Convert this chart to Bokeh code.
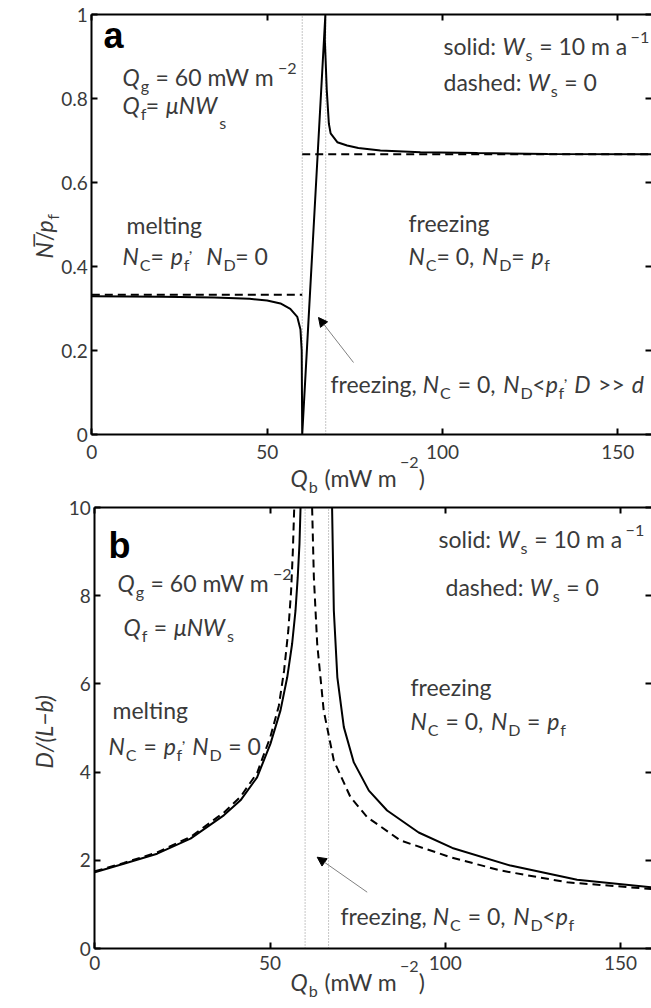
import math
from bokeh.plotting import figure
from bokeh.models import (Label, Arrow, NormalHead, FixedTicker, LinearAxis, Range1d,
                          CustomLabelingPolicy)
from bokeh.layouts import column
from bokeh.embed import file_html
from bokeh.resources import INLINE

# ---------------- data ----------------
qb_ticks = [0, 50, 100, 150]
a_yticks = [0, 0.2, 0.4, 0.6, 0.8, 1.0]
a_ylabels = ["0", "0.2", "0.4", "0.6", "0.8", "1"]
b_yticks = [0, 2, 4, 6, 8, 10]
b_ylabels = ["0", "2", "4", "6", "8", "10"]
q_thresholds = [60.0, 66.7]

# panel a: normalised effective pressure
a_dash_melt_q = [0, 60]
a_dash_melt_n = [0.333, 0.333]
a_dash_freeze_q = [60, 159.6]
a_dash_freeze_n = [0.667, 0.667]
a_solid_q = [0, 20, 35, 45, 50, 53.8, 56.6, 58.6, 59.5, 59.85, 60.0,
             66.6, 66.45, 67.0, 67.6, 68.1, 70.0, 72.8, 76.0, 82.3, 93.7, 110, 130, 159.6]
a_solid_n = [0.329, 0.328, 0.326, 0.323, 0.319, 0.312, 0.299, 0.280, 0.250, 0.20, 0.0,
             1.0, 0.94, 0.82, 0.74, 0.717, 0.696, 0.688, 0.682, 0.676, 0.672, 0.670, 0.668, 0.667]

# panel b: D/(L-b)
b_solid_left_q = [0, 8.27, 17.8, 27.3, 36.8, 41.57, 46.3, 50.1, 52.98, 54.9, 56.3, 57.26, 57.9, 58.4, 58.7]
b_solid_left_d = [1.73, 1.92, 2.15, 2.49, 3.02, 3.36, 3.88, 4.64, 5.40, 6.15, 6.91, 7.66, 8.42, 9.18, 10.0]
b_dash_left_q = [0, 8.27, 17.8, 27.3, 36.8, 41.57, 46.3, 50.1, 52.5, 54.0, 55.2, 56.0, 56.5, 56.9]
b_dash_left_d = [1.75, 1.94, 2.18, 2.53, 3.08, 3.44, 3.98, 4.80, 5.50, 6.30, 7.20, 8.10, 9.00, 10.0]
b_solid_right_q = [67.7, 68.2, 69.2, 71.05, 73.9, 78.2, 83.4, 92.4, 102.0, 118.6, 137.6, 158.8]
b_solid_right_d = [10.0, 7.66, 6.15, 5.02, 4.22, 3.58, 3.13, 2.63, 2.28, 1.88, 1.56, 1.39]
b_dash_right_q = [62.0, 62.5, 63.45, 65.3, 68.2, 72.95, 77.7, 87.2, 101.5, 115.7, 134.8, 158.8]
b_dash_right_d = [10.0, 8.42, 6.91, 5.40, 4.26, 3.43, 2.98, 2.45, 2.07, 1.77, 1.50, 1.35]

# ---------------- styling helpers ----------------
FONT = "Lato"
TXT = "#3a3a3a"
TS = 23      # annotation font size (px)
BASEFIX = 0.27  # baseline correction (em)
W = {' ': 0.30, 'a': 0.49, 'b': 0.56, 'c': 0.46, 'd': 0.56, 'e': 0.52, 'f': 0.32, 'g': 0.50,
     'h': 0.56, 'i': 0.24, 'l': 0.24, 'm': 0.84, 'n': 0.56, 'o': 0.56, 'p': 0.56, 'r': 0.37,
     's': 0.42, 't': 0.35, 'z': 0.46, 'k': 0.50, 'u': 0.56, 'C': 0.67, 'D': 0.74, 'L': 0.50,
     'N': 0.75, 'Q': 0.79, 'W': 1.0, '=': 0.58, ':': 0.25, ',': 0.22, '.': 0.22, '(': 0.30,
     ')': 0.30, '<': 0.58, '>': 0.58, '\u2212': 0.58, '\u03bc': 0.56, '/': 0.38, '\u0305': 0.0}
for d in "0123456789":
    W[d] = 0.58


def tw(s, fs):
    return sum(W.get(c, 0.55) for c in s) * fs


def rich(p, x, y, segs, size=TS, angle=0.0):
    adv = 0.0
    for seg in segs:
        text, kind = seg[0], seg[1]
        fs = size
        rise = 0.0
        style = "italic" if kind == "i" else "normal"
        if kind == "sub":
            fs = size * 0.7
            rise = -0.27 * size
        elif kind == "sup":
            fs = size * 0.7
            rise = 0.45 * size
        if len(seg) > 2:
            rise = seg[2]
        body = text.lstrip(" ")
        adv += tw(text[:len(text) - len(body)], fs)
        if body.strip():
            r = rise + BASEFIX * fs
            xo, yo = (adv, r) if angle == 0 else (-r, adv)
            p.add_layout(Label(x=x, y=y, x_offset=xo, y_offset=yo, text=body, angle=angle,
                               text_font=FONT, text_font_size=f"{fs:.1f}px", text_font_style=style,
                               text_color=TXT, text_baseline="alphabetic", text_align="left"))
        adv += tw(body, fs)


def panel_letter(p, x, y, letter):
    p.add_layout(Label(x=x, y=y, y_offset=BASEFIX * 36, text=letter, text_font="Liberation Sans",
                       text_font_style="bold", text_font_size="36px", text_color="black",
                       text_baseline="alphabetic"))


def make_fig(width, height, xr, yr, xend, ymax, yticks, ylabels, xstand):
    p = figure(width=width, height=height, x_range=Range1d(*xr), y_range=Range1d(*yr),
               output_backend="svg", toolbar_location=None, title_location=None,
               x_axis_location=None, y_axis_location=None,
               min_border_left=0, min_border_right=0, min_border_top=0, min_border_bottom=0)
    p.grid.visible = False
    p.outline_line_color = None
    p.background_fill_color = "white"
    p.border_fill_color = "white"
    bottom = LinearAxis(fixed_location=0, bounds=(0, xend), ticker=FixedTicker(ticks=qb_ticks))
    top = LinearAxis(fixed_location=ymax, bounds=(0, xend), ticker=FixedTicker(ticks=qb_ticks))
    left = LinearAxis(fixed_location=0, bounds=(0, ymax), ticker=FixedTicker(ticks=yticks),
                      major_label_overrides={t: l for t, l in zip(yticks, ylabels)})
    right = LinearAxis(fixed_location=xend, bounds=(0, ymax), ticker=FixedTicker(ticks=yticks))
    for ax in (bottom, top, left, right):
        ax.axis_line_color = "black"
        ax.axis_line_width = 2
        ax.major_tick_in = 6
        ax.major_tick_out = 0
        ax.major_tick_line_width = 2
        ax.major_tick_line_color = "black"
        ax.minor_tick_in = 0
        ax.minor_tick_out = 0
        ax.major_label_text_font = FONT
        ax.major_label_text_font_size = "19px"
        ax.major_label_text_color = TXT
    bottom.major_label_standoff = xstand
    left.major_label_standoff = 4
    for ax in (top, right):
        ax.major_label_text_font_size = "0px"
        ax.major_label_standoff = 0
        ax.major_label_policy = CustomLabelingPolicy(
            code="for (const i of indices) { indices.unset(i) }\nreturn indices")
    right.axis_line_color = None
    p.add_layout(bottom, "below")
    p.add_layout(top, "above")
    p.add_layout(left, "left")
    p.add_layout(right, "right")
    return p


# ---------------- panel a (page pixels 0..495) ----------------
AX0, AXS, AY0, AYS = 91.3, 3.507, 434.0, 420.0


def ax_(px):
    return (px - AX0) / AXS


def ay_(py):
    return (AY0 - py) / AYS


A_XEND = ax_(651)
pa = make_fig(651, 495, (ax_(0), A_XEND), (ay_(495), ay_(0)), A_XEND, 1.0, a_yticks, a_ylabels, 10)
pa.segment(x0=q_thresholds, y0=[0] * len(q_thresholds), x1=q_thresholds, y1=[1.0] * len(q_thresholds),
           line_color="#8c8c8c", line_width=1, line_dash="1 2")
pa.line(a_dash_melt_q, a_dash_melt_n, line_color="black", line_width=2, line_dash="8 5")
pa.line(a_dash_freeze_q, a_dash_freeze_n, line_color="black", line_width=2, line_dash="8 5")
pa.line(a_solid_q, a_solid_n, line_color="black", line_width=2)
pa.add_layout(Arrow(end=NormalHead(size=9, fill_color="black", line_color="black", line_width=1),
                    x_start=ax_(353), y_start=ay_(362), x_end=ax_(318), y_end=ay_(317),
                    line_color="#808080", line_width=1))

panel_letter(pa, ax_(103), ay_(45), "a")
rich(pa, ax_(122), ay_(83), [("Q", "i"), ("g", "sub"), (" = 60 mW m", "n"), ("\u22122", "sup")])
rich(pa, ax_(122), ay_(111), [("Q", "i"), ("f", "sub"), ("= ", "n"), ("\u03bcNW", "i"), ("s", "sub", -15)])
rich(pa, ax_(126), ay_(231), [("melting", "n")])
rich(pa, ax_(122), ay_(262), [("N", "i"), ("C", "sub"), ("= ", "n"), ("p", "i"), ("f", "sub"), (",", "sup"),
                              ("  ", "n"), ("N", "i"), ("D", "sub"), ("= 0", "n")])
rich(pa, ax_(443), ay_(52), [("solid: ", "n"), ("W", "i"), ("s", "sub"), (" = 10 m a", "n"), ("\u22121", "sup")])
rich(pa, ax_(443), ay_(88), [("dashed: ", "n"), ("W", "i"), ("s", "sub"), (" = 0", "n")])
rich(pa, ax_(408), ay_(229), [("freezing", "n")])
rich(pa, ax_(408), ay_(262), [("N", "i"), ("C", "sub"), ("= 0, ", "n"), ("N", "i"), ("D", "sub"), ("= ", "n"),
                              ("p", "i"), ("f", "sub")])
rich(pa, ax_(330), ay_(390), [("freezing, ", "n"), ("N", "i"), ("C", "sub"), (" = 0, ", "n"), ("N", "i"),
                              ("D", "sub"), ("<", "n"), ("p", "i"), ("f", "sub"), (",", "sup"), (" ", "n"),
                              ("D", "i"), (" >> ", "n"), ("d", "i")])
rich(pa, ax_(290), ay_(484), [("Q", "i"), ("b", "sub"), (" (mW m", "n"), ("\u22122", "sup", 18), (")", "n")])
rich(pa, ax_(50), ay_(258), [("N\u0305", "i"), ("/", "n"), ("p", "i"), ("f", "sub")], angle=math.pi / 2)

# ---------------- panel b (page pixels 495..1008) ----------------
BX0, BXS, BY0, BYS = 94.3, 3.505, 948.0, 44.1


def bx_(px):
    return (px - BX0) / BXS


def by_(py):
    return (BY0 - py) / BYS


B_XEND = bx_(651)
pb = make_fig(651, 513, (bx_(0), B_XEND), (by_(1008), by_(495)), B_XEND, 10.0, b_yticks, b_ylabels, 7)
pb.segment(x0=q_thresholds, y0=[0] * len(q_thresholds), x1=q_thresholds, y1=[10.0] * len(q_thresholds),
           line_color="#8c8c8c", line_width=1, line_dash="1 2")
pb.line(b_dash_left_q, b_dash_left_d, line_color="black", line_width=2, line_dash="8 5")
pb.line(b_dash_right_q, b_dash_right_d, line_color="black", line_width=2, line_dash="8 5")
pb.line(b_solid_left_q, b_solid_left_d, line_color="black", line_width=2)
pb.line(b_solid_right_q, b_solid_right_d, line_color="black", line_width=2)
pb.add_layout(Arrow(end=NormalHead(size=9, fill_color="black", line_color="black", line_width=1),
                    x_start=bx_(366.7), y_start=by_(891.7), x_end=bx_(316.7), y_end=by_(856.7),
                    line_color="#808080", line_width=1))

panel_letter(pb, bx_(108), by_(555), "b")
rich(pb, bx_(117), by_(589), [("Q", "i"), ("g", "sub"), (" = 60 mW m", "n"), ("\u22122", "sup")])
rich(pb, bx_(123), by_(633), [("Q", "i"), ("f", "sub"), (" = ", "n"), ("\u03bcNW", "i"), ("s", "sub")])
rich(pb, bx_(112), by_(716), [("melting", "n")])
rich(pb, bx_(108), by_(752), [("N", "i"), ("C", "sub"), (" = ", "n"), ("p", "i"), ("f", "sub"), (",", "sup"),
                              (" ", "n"), ("N", "i"), ("D", "sub"), (" = 0", "n")])
rich(pb, bx_(438), by_(545), [("solid: ", "n"), ("W", "i"), ("s", "sub"), (" = 10 m a", "n"), ("\u22121", "sup")])
rich(pb, bx_(445), by_(593), [("dashed: ", "n"), ("W", "i"), ("s", "sub"), (" = 0", "n")])
rich(pb, bx_(410), by_(693), [("freezing", "n")])
rich(pb, bx_(410), by_(727), [("N", "i"), ("C", "sub"), (" = 0, ", "n"), ("N", "i"), ("D", "sub"), (" = ", "n"),
                              ("p", "i"), ("f", "sub")])
rich(pb, bx_(340), by_(922), [("freezing, ", "n"), ("N", "i"), ("C", "sub"), (" = 0, ", "n"), ("N", "i"),
                              ("D", "sub"), ("<", "n"), ("p", "i"), ("f", "sub")])
rich(pb, bx_(290), by_(988), [("Q", "i"), ("b", "sub"), (" (mW m", "n"), ("\u22122", "sup", 18), (")", "n")])
rich(pb, bx_(50), by_(768), [("D/(L\u2212b)", "i")], angle=math.pi / 2)

layout = column(pa, pb, spacing=0)
open("out.html", "w").write(file_html(layout, INLINE))
